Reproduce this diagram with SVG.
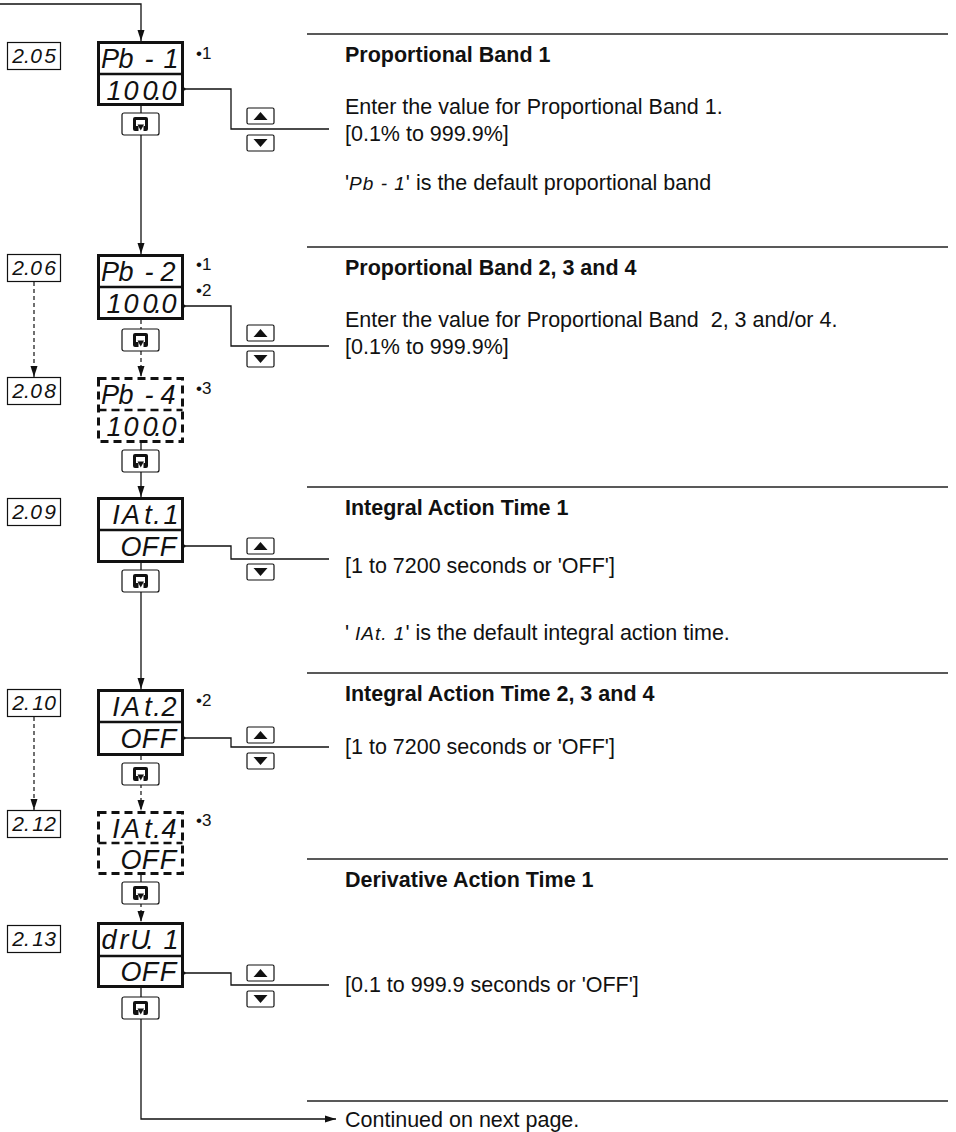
<svg xmlns="http://www.w3.org/2000/svg" width="956" height="1132" viewBox="0 0 956 1132">
<style>
.t{font-family:"Liberation Sans",Arial,Helvetica,sans-serif;font-size:21.5px;fill:#111}
.b{font-weight:bold}
.il{font-style:italic;font-size:19px;letter-spacing:1px}
.seg{font-family:"Liberation Sans",Arial,sans-serif;font-style:italic;font-size:27px;fill:#111;text-anchor:middle}
.code{font-family:"Liberation Sans",Arial,sans-serif;font-style:italic;font-size:21px;fill:#111;text-anchor:middle}
.note{font-family:"Liberation Sans",Arial,sans-serif;font-size:17px;fill:#111}
.disp{fill:#fff;stroke:#111;stroke-width:3}
.dash{stroke-dasharray:8 5}
.div{stroke:#111;stroke-width:2.5}
.cbox{fill:#fff;stroke:#111;stroke-width:1.2}
.btn{fill:#fff;stroke:#111;stroke-width:1.2}
.sep{stroke:#222;stroke-width:1.3}
.ln{fill:none;stroke:#111;stroke-width:1.3}
.dl{fill:none;stroke:#111;stroke-width:1.2;stroke-dasharray:4 3}
.dot{fill:#111}
</style>
<defs>
<marker id="ah" markerUnits="userSpaceOnUse" markerWidth="12" markerHeight="8" refX="11" refY="4" orient="auto"><path d="M0,0.5 L11,4 L0,7.5 z" fill="#111"/></marker>
<g id="enter">
<rect x="0" y="0" width="37" height="22" rx="2" class="btn"/>
<rect x="11" y="4" width="15" height="14" rx="2" fill="#111"/>
<rect x="14" y="7" width="9" height="6" fill="#fff"/>
<rect x="16.5" y="13" width="5" height="5" fill="#fff"/>
<path d="M15.5,11.5 L22,11.5 L18.75,17.5 z" fill="#111"/>
</g>
<g id="up"><rect width="27" height="16" rx="1.5" class="btn"/><path d="M6.5,12 L20.5,12 L13.5,4 z" fill="#111"/></g>
<g id="down"><rect width="27" height="16" rx="1.5" class="btn"/><path d="M6.5,4 L20.5,4 L13.5,12 z" fill="#111"/></g>
</defs>

<g id="rules">
<line class="sep" x1="307" y1="34" x2="948" y2="34"/>
<line class="sep" x1="307" y1="247" x2="948" y2="247"/>
<line class="sep" x1="307" y1="487" x2="948" y2="487"/>
<line class="sep" x1="307" y1="673" x2="948" y2="673"/>
<line class="sep" x1="307" y1="859" x2="948" y2="859"/>
<line class="sep" x1="307" y1="1101" x2="948" y2="1101"/>
</g>

<g id="connectors">
<path class="ln" d="M0,4 H141 V41" marker-end="url(#ah)"/>
<path class="ln" d="M141,106 V113"/>
<path class="ln" d="M141,135 V254" marker-end="url(#ah)"/>
<path class="dl" d="M141,320 V329"/>
<path class="dl" d="M141,351 V377" marker-end="url(#ah)"/>
<path class="ln" d="M141,443 V450"/>
<path class="ln" d="M141,472 V497" marker-end="url(#ah)"/>
<path class="ln" d="M141,563 V570"/>
<path class="ln" d="M141,592 V689" marker-end="url(#ah)"/>
<path class="dl" d="M141,756 V763"/>
<path class="dl" d="M141,784 V811" marker-end="url(#ah)"/>
<path class="ln" d="M141,875 V882"/>
<path class="dl" d="M141,903 V922" marker-end="url(#ah)"/>
<path class="ln" d="M141,988 V997"/>
<path class="ln" d="M141,1018 V1119 H336" marker-end="url(#ah)"/>
<path class="dl" d="M34,282 V377" marker-end="url(#ah)"/>
<path class="dl" d="M34,717 V810" marker-end="url(#ah)"/>
<path class="ln" d="M184,89 H231 V129 H329"/>
<path class="ln" d="M184,306 H231 V346 H329"/>
<path class="ln" d="M184,546 H231 V559 H329"/>
<path class="ln" d="M184,738 H231 V747 H329"/>
<path class="ln" d="M184,973 H231 V985 H329"/>
<circle class="dot" cx="184" cy="89" r="1.6"/>
<circle class="dot" cx="184" cy="306" r="1.6"/>
<circle class="dot" cx="184" cy="546" r="1.6"/>
<circle class="dot" cx="184" cy="738" r="1.6"/>
<circle class="dot" cx="184" cy="973" r="1.6"/>
</g>

<g id="code-205"><rect class="cbox" x="7.5" y="42.5" width="53" height="27"/><text class="code" x="18 27 36 50" y="63">2.05</text></g>
<g id="code-206"><rect class="cbox" x="7.5" y="254.5" width="53" height="27"/><text class="code" x="18 27 36 50" y="275">2.06</text></g>
<g id="code-208"><rect class="cbox" x="7.5" y="377.5" width="53" height="27"/><text class="code" x="18 27 36 50" y="398">2.08</text></g>
<g id="code-209"><rect class="cbox" x="7.5" y="498.5" width="53" height="27"/><text class="code" x="18 27 36 50" y="519">2.09</text></g>
<g id="code-210"><rect class="cbox" x="7.5" y="689.5" width="53" height="27"/><text class="code" x="18 27 38 50" y="710">2.10</text></g>
<g id="code-212"><rect class="cbox" x="7.5" y="810.5" width="53" height="27"/><text class="code" x="18 27 38 50" y="831">2.12</text></g>
<g id="code-213"><rect class="cbox" x="7.5" y="925.5" width="53" height="27"/><text class="code" x="18 27 38 50" y="946">2.13</text></g>

<g id="disp-pb1">
<rect class="disp" x="98.5" y="42.5" width="84" height="62"/>
<line class="div" x1="98.5" y1="74" x2="182.5" y2="74"/>
<text class="seg" x="110 126 149 171" y="68">Pb-1</text>
<text class="seg" x="114 131 150 158 169" y="100">100.0</text>
<text class="note" x="196" y="59">•1</text>
</g>
<g id="disp-pb2">
<rect class="disp" x="98.5" y="255.5" width="84" height="63"/>
<line class="div" x1="98.5" y1="287" x2="182.5" y2="287"/>
<text class="seg" x="110 126 149 168" y="281">Pb-2</text>
<text class="seg" x="114 131 150 158 169" y="313">100.0</text>
<text class="note" x="196" y="270">•1</text>
<text class="note" x="196" y="296">•2</text>
</g>
<g id="disp-pb4">
<rect class="disp dash" x="98.5" y="378.5" width="84" height="63"/>
<line class="div dash" x1="98.5" y1="410" x2="182.5" y2="410"/>
<text class="seg" x="110 126 149 168" y="404">Pb-4</text>
<text class="seg" x="114 131 150 158 169" y="436">100.0</text>
<text class="note" x="196" y="394">•3</text>
</g>
<g id="disp-iat1">
<rect class="disp" x="98.5" y="498.5" width="84" height="63"/>
<line class="div" x1="98.5" y1="530" x2="182.5" y2="530"/>
<text class="seg" x="116 131 148 157 171" y="524">IAt.1</text>
<text class="seg" x="131 150 168" y="556">OFF</text>
</g>
<g id="disp-iat2">
<rect class="disp" x="98.5" y="690.5" width="84" height="64"/>
<line class="div" x1="98.5" y1="722" x2="182.5" y2="722"/>
<text class="seg" x="116 131 148 157 169" y="716">IAt.2</text>
<text class="seg" x="131 150 168" y="748">OFF</text>
<text class="note" x="196" y="706">•2</text>
</g>
<g id="disp-iat4">
<rect class="disp dash" x="98.5" y="812.5" width="84" height="61"/>
<line class="div dash" x1="98.5" y1="843" x2="182.5" y2="843"/>
<text class="seg" x="116 131 148 157 169" y="838">IAt.4</text>
<text class="seg" x="131 150 168" y="869">OFF</text>
<text class="note" x="196" y="826">•3</text>
</g>
<g id="disp-dru1">
<rect class="disp" x="98.5" y="923.5" width="84" height="63"/>
<line class="div" x1="98.5" y1="956" x2="182.5" y2="956"/>
<text class="seg" x="109 124 140 150 171" y="949">drU.1</text>
<text class="seg" x="131 150 168" y="981">OFF</text>
</g>

<g id="keys">
<use href="#enter" x="122" y="113"/>
<use href="#enter" x="122" y="329"/>
<use href="#enter" x="122" y="450"/>
<use href="#enter" x="122" y="570"/>
<use href="#enter" x="122" y="763"/>
<use href="#enter" x="122" y="882"/>
<use href="#enter" x="122" y="997"/>
<use href="#up" x="247" y="108"/><use href="#down" x="247" y="135"/>
<use href="#up" x="247" y="325"/><use href="#down" x="247" y="351"/>
<use href="#up" x="247" y="538"/><use href="#down" x="247" y="564"/>
<use href="#up" x="247" y="727"/><use href="#down" x="247" y="753"/>
<use href="#up" x="247" y="965"/><use href="#down" x="247" y="991"/>
</g>

<g id="text-pb1">
<text class="t b" x="345" y="62">Proportional Band 1</text>
<text class="t" x="345" y="114">Enter the value for Proportional Band 1.</text>
<text class="t" x="345" y="141">[0.1% to 999.9%]</text>
<text class="t" x="345" y="190">'<tspan class="il">Pb - 1</tspan>' is the default proportional band</text>
</g>
<g id="text-pb2">
<text class="t b" x="345" y="275">Proportional Band 2, 3 and 4</text>
<text class="t" x="345" y="327" xml:space="preserve">Enter the value for Proportional Band  2, 3 and/or 4.</text>
<text class="t" x="345" y="354">[0.1% to 999.9%]</text>
</g>
<g id="text-iat1">
<text class="t b" x="345" y="515">Integral Action Time 1</text>
<text class="t" x="345" y="573">[1 to 7200 seconds or 'OFF']</text>
<text class="t" x="345" y="640" xml:space="preserve">' <tspan class="il">IAt. 1</tspan>' is the default integral action time.</text>
</g>
<g id="text-iat2">
<text class="t b" x="345" y="701">Integral Action Time 2, 3 and 4</text>
<text class="t" x="345" y="754">[1 to 7200 seconds or 'OFF']</text>
</g>
<g id="text-dru1">
<text class="t b" x="345" y="887">Derivative Action Time 1</text>
<text class="t" x="345" y="992">[0.1 to 999.9 seconds or 'OFF']</text>
</g>
<g id="text-next">
<text class="t" x="345" y="1127">Continued on next page.</text>
</g>
</svg>
